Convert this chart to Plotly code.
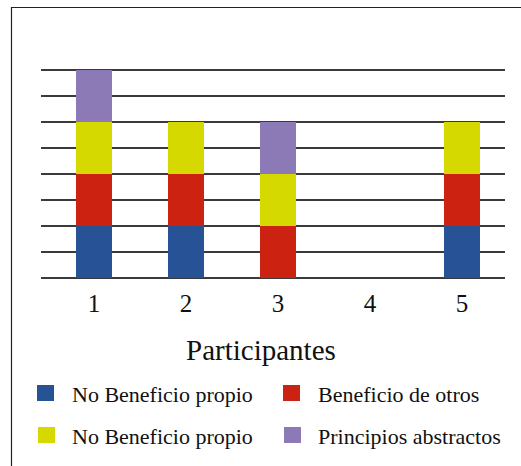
import plotly.graph_objects as go

# --- data ---
participants = [1, 2, 3, 4, 5]
tick_labels = ["1", "2", "3", "4", "5"]
series_names = ["No Beneficio propio", "Beneficio de otros", "No Beneficio propio", "Principios abstractos"]
series_colors = ["#285296", "#CC2211", "#D5D900", "#8C7AB6"]
no_beneficio_propio_a = [1, 1, 0, 0, 1]
beneficio_de_otros = [1, 1, 1, 0, 1]
no_beneficio_propio_b = [1, 1, 1, 0, 1]
principios_abstractos = [1, 0, 1, 0, 0]
series_values = [no_beneficio_propio_a, beneficio_de_otros, no_beneficio_propio_b, principios_abstractos]

W, H = 521, 466
L, R, T, B = 41, 505, 44, 278  # plot area in pixels


def px(x):
    return (x - L) / (R - L)


def py(y):
    return (B - y) / (B - T)


SERIF = "Liberation Serif"

fig = go.Figure()
for name, color, vals in zip(series_names, series_colors, series_values):
    fig.add_trace(go.Bar(
        x=participants, y=vals, name=name, width=0.39,
        marker=dict(color=color, line=dict(width=0)),
        showlegend=False, hoverinfo="skip",
    ))

shapes = [
    # outer frame
    dict(type="rect", xref="paper", yref="paper", x0=px(11.5), x1=px(540), y0=py(7.5), y1=py(490),
         line=dict(color="#222222", width=1.2), fillcolor="rgba(0,0,0,0)", layer="above"),
]
annotations = [
    dict(text="Participantes", xref="paper", yref="paper", x=px(261), y=py(350),
         xanchor="center", yanchor="middle", showarrow=False,
         font=dict(family=SERIF, size=29, color="#111111")),
]

# legend: two rows of two entries
legend_slots = [
    (37, 385, 70, 394),
    (283, 385, 316, 394),
    (38, 427, 70, 436),
    (284, 427, 316, 436),
]
for (sx, sy, tx, ty), name, color in zip(legend_slots, series_names, series_colors):
    shapes.append(dict(type="rect", xref="paper", yref="paper",
                       x0=px(sx), x1=px(sx + 17), y0=py(sy), y1=py(sy + 16),
                       fillcolor=color, line=dict(width=0)))
    annotations.append(dict(text=name, xref="paper", yref="paper", x=px(tx), y=py(ty),
                            xanchor="left", yanchor="middle", showarrow=False,
                            font=dict(family=SERIF, size=22, color="#111111")))

fig.update_layout(
    width=W, height=H,
    margin=dict(l=L, r=W - R, t=T, b=H - B, pad=0),
    paper_bgcolor="white", plot_bgcolor="white",
    barmode="stack", bargap=0,
    shapes=shapes, annotations=annotations,
    xaxis=dict(range=[1 - (94 - L) / 92, 5 + (R - 462) / 92], tickvals=participants, ticktext=tick_labels,
               showgrid=False, zeroline=False, showline=False, ticks="",
               tickfont=dict(family=SERIF, size=25, color="#111111"), ticklabelstandoff=8,
               fixedrange=True),
    yaxis=dict(range=[0, 4.5], dtick=0.5, showticklabels=False, ticks="",
               showgrid=True, gridcolor="#3a3a3a", gridwidth=1.6,
               zeroline=True, zerolinecolor="#3a3a3a", zerolinewidth=1.6,
               showline=False, fixedrange=True),
    font=dict(family=SERIF),
)

fig.write_html("out.html")
